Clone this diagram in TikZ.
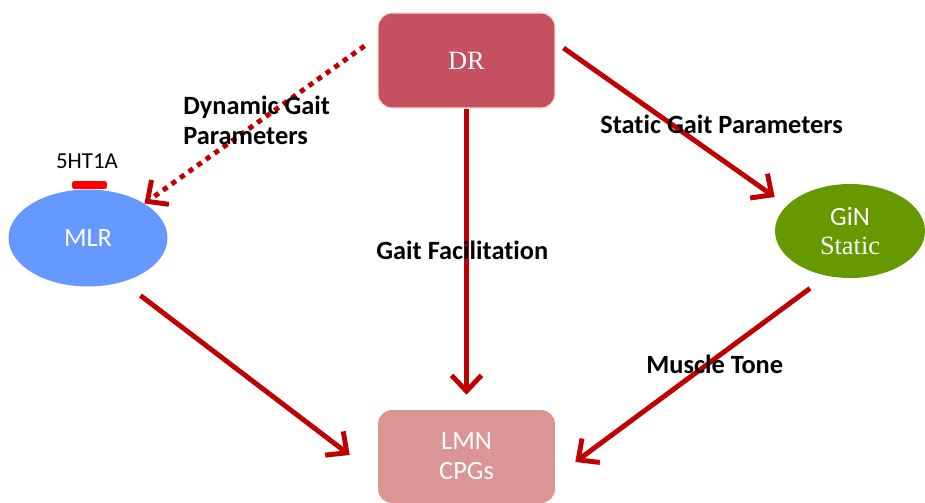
\documentclass[tikz,border=0pt]{standalone}
\usepackage{fontspec}
\setmainfont{Liberation Serif}
\newfontfamily\calib[Ligatures=NoCommon]{Carlito}
\usetikzlibrary{arrows.meta}
\usetikzlibrary{shapes.geometric}
\definecolor{drcol}{HTML}{C5505F}
\definecolor{mlrcol}{HTML}{6699FF}
\definecolor{gincol}{HTML}{669900}
\definecolor{lmncol}{HTML}{DA9595}
\definecolor{arrcol}{HTML}{C00000}
\tikzset{
  box/.style={rectangle,rounded corners=8pt,minimum width=3.54cm,text=white,inner sep=0},
  oval/.style={ellipse,text=white,inner sep=0,align=center},
  link/.style={arrcol,line width=2.8pt,-{Straight Barb[length=9pt,width=17pt]}},
  dots/.style={link,dash pattern=on 3pt off 3pt},
  lbl/.style={font=\calib\bfseries\fontsize{15}{17}\selectfont,anchor=west,align=left,inner sep=0}
}

\begin{document}
\begin{tikzpicture}[x=0.02cm,y=-0.02cm]
    \useasboundingbox (0,0) rectangle (925,503);

    \node[box,fill=drcol,draw=drcol!50!orange!25,line width=0.6pt,minimum height=1.9cm,
      font=\fontsize{15}{18}\selectfont] (dr) at (466.5,60.5) {DR};
    \node[oval,fill=mlrcol,minimum width=3.18cm,minimum height=1.94cm,
      font=\calib\fontsize{15}{18}\selectfont] (mlr) at (88,238) {MLR};
    \node[oval,fill=gincol,minimum width=3cm,minimum height=1.88cm,
      font=\fontsize{15}{16.5}\selectfont] (gin) at (850,231) {{\calib GiN}\\Static};
    \node[box,fill=lmncol,minimum height=1.86cm,align=center,
      font=\calib\fontsize{15}{17}\selectfont] (lmn) at (466.5,456.5) {LMN\\CPGs};

    \node[fill=red,minimum width=0.7cm,minimum height=0.16cm,inner sep=0,
      rounded corners=1pt] (bar) at (89.5,185) {};
    \node[font=\calib\fontsize{13}{15}\selectfont,inner sep=0] (ht) at (87,161) {5HT1A};

    \draw[dots] ([shift={(-13,-14.5)}]dr.west) -- (mlr.north east);
    \draw[link,shorten >=8.5pt] (dr.south) -- (lmn.north);
    \draw[link] ([shift={(8,-12.5)}]dr.east) -- ([shift={(0,-34)}]gin.west);
    \draw[link] ([shift={(-4,23)}]mlr.south east) -- ([shift={(-28,-1.5)}]lmn.west);
    \draw[link] ([shift={(-40,10)}]gin.south) -- ([shift={(20,5.5)}]lmn.east);

    \node[lbl] (dyn) at (183,120) {Dynamic Gait\\Parameters};
    \node[lbl] (sgp) at (600,124) {Static Gait Parameters};
    \node[lbl] (gf) at (376,250) {Gait Facilitation};
    \node[lbl] (mt) at (646,364) {Muscle Tone};
\end{tikzpicture}
\end{document}
